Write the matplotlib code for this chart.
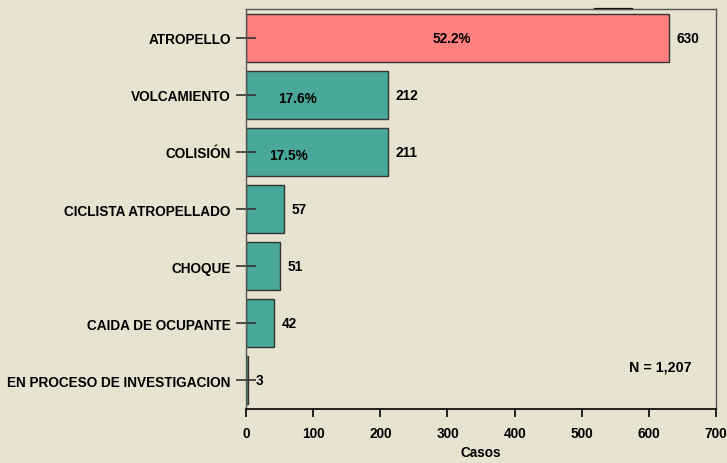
import matplotlib.pyplot as plt

categories = ["ATROPELLO", "VOLCAMIENTO", "COLISIÓN", "CICLISTA ATROPELLADO",
              "CHOQUE", "CAIDA DE OCUPANTE", "EN PROCESO DE INVESTIGACION"]
casos = [630, 212, 211, 57, 51, 42, 3]
pct_labels = ["52.2%", "17.6%", "17.5%"]
pct_xpos = [307, 77, 63]
total_label = "N = 1,207"

bg = '#E6E4D0'
bar_colors = ['#FF7F7F'] + ['#48A89A'] * (len(casos) - 1)

plt.rcParams['font.family'] = ['Liberation Sans', 'DejaVu Sans']
plt.rcParams['font.weight'] = 'bold'
fs = 9.8

fig = plt.figure(figsize=(7.27, 4.64), dpi=100, facecolor=bg)
ax = fig.add_axes([0.3384, 0.1164, 0.6466, 0.8620], facecolor=bg)

ypos = list(range(len(casos)))
ax.barh(ypos, casos, height=0.84, color=bar_colors, edgecolor='#333333', linewidth=1.0)

for y, v in zip(ypos, casos):
    ax.text(v + 11, y, str(v), va='center', ha='left', fontsize=fs, fontweight='bold')

for y, (lab, xp) in enumerate(zip(pct_labels, pct_xpos)):
    dy = 0 if y == 0 else 0.05
    ax.text(xp, y + dy, lab, va='center', ha='center', fontsize=fs, fontweight='bold')

ax.text(0.947, 0.107, total_label, transform=ax.transAxes, ha='right', va='center',
        fontsize=10.3, fontweight='bold')

# small dark stub on the top border, as in the original
ax.plot([520, 575], [-0.5, -0.5], color='black', linewidth=1.6, clip_on=False)

ax.set_xlim(0, 700)
ax.set_ylim(6.5, -0.5)
ax.set_xticks(range(0, 701, 100))
ax.set_yticks(ypos)
ax.set_yticklabels(categories, fontsize=fs, fontweight='bold')
ax.tick_params(axis='y', direction='inout', length=14, width=1.2, color='#333333', pad=4)
ax.tick_params(axis='x', direction='out', length=6, width=1.2, labelsize=fs, pad=6)
for lab in ax.get_xticklabels():
    lab.set_fontweight('bold')

ax.set_xlabel('Casos', fontsize=fs, fontweight='bold', labelpad=4)

for side in ['top', 'right', 'left']:
    ax.spines[side].set_color('#555555')
    ax.spines[side].set_linewidth(1.0)
ax.spines['bottom'].set_color('black')
ax.spines['bottom'].set_linewidth(1.2)

plt.savefig('out.png', dpi=100, facecolor=bg)
